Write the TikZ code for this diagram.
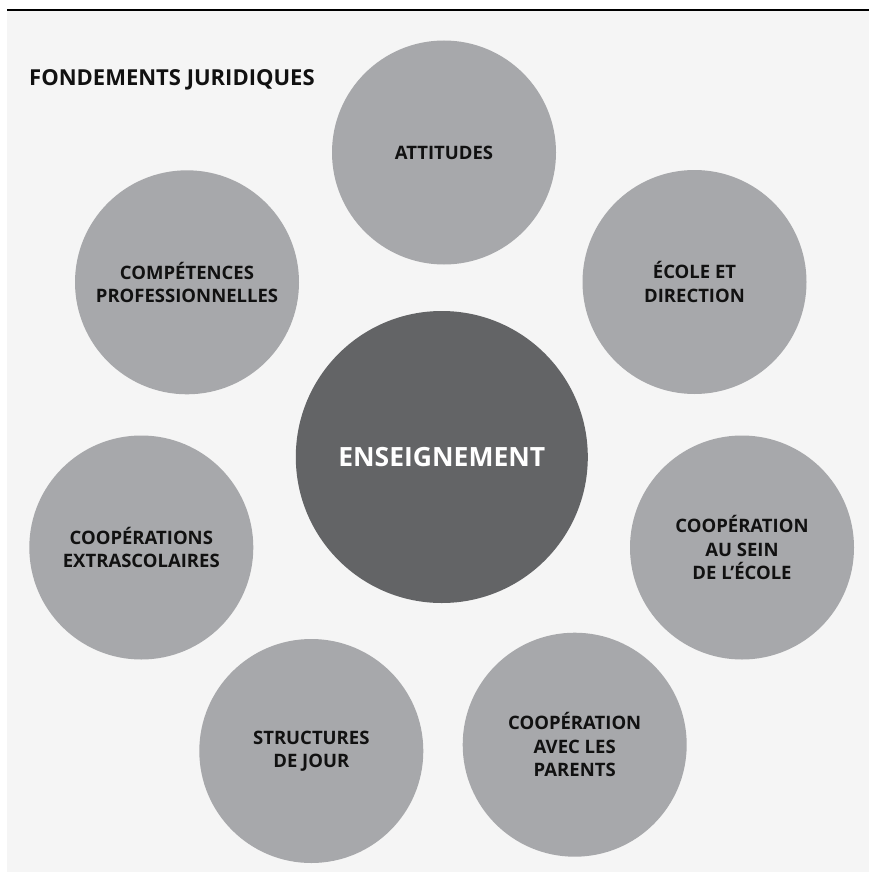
\documentclass[tikz,border=0pt]{standalone}
\usepackage{fontspec}
\setmainfont{Open Sans}
\definecolor{bgc}{HTML}{F5F5F5}
\definecolor{circc}{HTML}{A7A8AB}
\definecolor{darkc}{HTML}{636466}
\definecolor{txtc}{HTML}{111111}
\begin{document}
\begin{tikzpicture}[x=1pt,y=1pt,
  bub/.style={circle,fill=circc,minimum size=224pt,inner sep=0pt,align=center,
    text=txtc,font=\bfseries\fontsize{18.5}{23.5}\selectfont},
  core/.style={circle,fill=darkc,minimum size=292pt,inner sep=0pt,align=center,
    text=white,font=\bfseries\fontsize{26.5}{30}\selectfont}]
\useasboundingbox (0,0) rectangle (869,-872);
\fill[bgc] (7,-11) rectangle (869,-872);
\coordinate (la) at (7,-10);
\coordinate (lb) at (869,-10);
\draw[line width=2pt,black] (la) -- (lb);
\node[anchor=base west,text=txtc,font=\bfseries\fontsize{22}{26}\selectfont,inner sep=0pt] (title) at (29,-86) {FONDEMENTS JURIDIQUES};
\node[core] (ens) at (441.8,-457) {ENSEIGNEMENT};
\node[bub] (att) at (444,-152.5) {ATTITUDES};
\node[bub] (ecole) at (694.5,-282) {ÉCOLE ET\\DIRECTION};
\node[bub] (sein) at (742,-547.5) {COOPÉRATION\\AU SEIN\\DE L’ÉCOLE};
\node[bub] (parents) at (574.7,-744.7) {COOPÉRATION\\AVEC LES\\PARENTS};
\node[bub] (struct) at (311.3,-751) {STRUCTURES\\DE JOUR};
\node[bub] (extra) at (141.3,-547.5) {COOPÉRATIONS\\EXTRASCOLAIRES};
\node[bub] (comp) at (187,-282.3) {COMPÉTENCES\\PROFESSIONNELLES};
\end{tikzpicture}
\end{document}
